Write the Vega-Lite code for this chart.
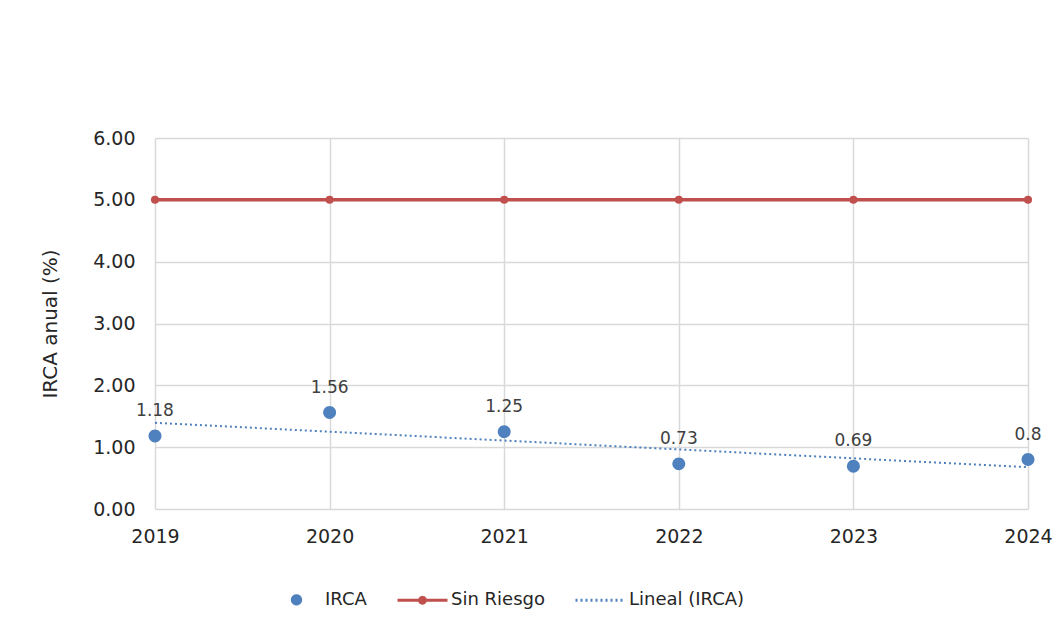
{
  "$schema": "https://vega.github.io/schema/vega-lite/v6.json",
  "width": 873,
  "height": 371,
  "autosize": "none",
  "padding": {"left": 155, "top": 138, "right": 35, "bottom": 119},
  "background": "white",
  "data": {
    "values": [
      {"year": 2019, "irca": 1.18, "sin": 5.0},
      {"year": 2020, "irca": 1.56, "sin": 5.0},
      {"year": 2021, "irca": 1.25, "sin": 5.0},
      {"year": 2022, "irca": 0.73, "sin": 5.0},
      {"year": 2023, "irca": 0.69, "sin": 5.0},
      {"year": 2024, "irca": 0.8, "sin": 5.0}
    ]
  },
  "config": {
    "font": "DejaVu Sans",
    "view": {"stroke": null},
    "axis": {
      "gridColor": "#d9d9d9",
      "gridWidth": 1.5,
      "domain": false,
      "ticks": false,
      "labelFont": "DejaVu Sans",
      "labelFontSize": 19,
      "labelColor": "#262626",
      "titleFont": "DejaVu Sans",
      "titleFontSize": 20,
      "titleFontWeight": "normal",
      "titleColor": "#262626"
    },
    "legend": {
      "title": null,
      "orient": "none",
      "direction": "horizontal",
      "legendX": 115,
      "legendY": 435,
      "padding": 0,
      "symbolSize": 2500,
      "symbolStrokeWidth": 2.8,
      "symbolOpacity": 1,
      "labelFontSize": 18,
      "labelColor": "#262626",
      "labelFont": "DejaVu Sans",
      "labelOffset": 2,
      "columnPadding": 24
    }
  },
  "encoding": {
    "x": {
      "field": "year",
      "type": "quantitative",
      "scale": {"domain": [2019, 2024], "nice": false, "zero": false},
      "axis": {"values": [2019, 2020, 2021, 2022, 2023, 2024], "format": "d", "title": null, "labelPadding": 18, "labelFlush": false}
    }
  },
  "layer": [
    {
      "transform": [{"regression": "irca", "on": "year", "method": "linear", "extent": [2019, 2024]}],
      "mark": {"type": "line", "strokeWidth": 2},
      "encoding": {
        "y": {"field": "irca", "type": "quantitative"},
        "color": {"datum": "Lineal (IRCA)"},
        "strokeDash": {
          "datum": "Lineal (IRCA)",
          "scale": {"domain": ["IRCA", "Sin Riesgo", "Lineal (IRCA)"], "range": [[1, 0], [1, 0], [2, 3]]}
        }
      }
    },
    {
      "mark": {"type": "line", "strokeWidth": 3.5},
      "encoding": {
        "y": {"field": "sin", "type": "quantitative"},
        "color": {"datum": "Sin Riesgo"},
        "strokeDash": {"datum": "Sin Riesgo"}
      }
    },
    {
      "mark": {"type": "point", "filled": true, "size": 65, "opacity": 1},
      "encoding": {
        "y": {"field": "sin", "type": "quantitative"},
        "color": {"datum": "Sin Riesgo"}
      }
    },
    {
      "mark": {"type": "point", "filled": true, "size": 5800, "opacity": 1},
      "encoding": {
        "y": {
          "field": "irca",
          "type": "quantitative",
          "scale": {"domain": [0, 6], "nice": false},
          "axis": {"values": [0, 1, 2, 3, 4, 5, 6], "format": ".2f", "title": "IRCA anual (%)", "labelPadding": 20, "titlePadding": 32}
        },
        "color": {
          "datum": "IRCA",
          "scale": {"domain": ["IRCA", "Sin Riesgo", "Lineal (IRCA)"], "range": ["#4e81bd", "#c0504d", "#4e81bd"]}
        },
        "shape": {
          "datum": "IRCA",
          "scale": {
            "domain": ["IRCA", "Sin Riesgo", "Lineal (IRCA)"],
            "range": [
              "M-0.17,0A0.17,0.17,0,1,1,0.17,0A0.17,0.17,0,1,1,-0.17,0Z",
              "M-1,0L1,0M-0.12,0A0.12,0.12,0,1,1,0.12,0A0.12,0.12,0,1,1,-0.12,0Z",
              "M-1,0L1,0"
            ]
          }
        }
      }
    },
    {
      "mark": {"type": "text", "dy": -25, "fontSize": 17, "color": "#404040", "font": "DejaVu Sans"},
      "encoding": {
        "y": {"field": "irca", "type": "quantitative"},
        "text": {"field": "irca", "type": "nominal"}
      }
    }
  ]
}
